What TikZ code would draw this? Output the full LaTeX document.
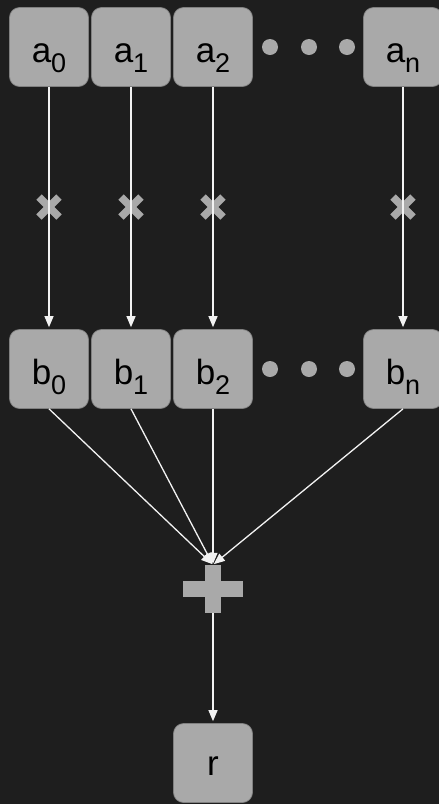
\documentclass[tikz,border=0pt]{standalone}
\usepackage{fontspec}
\setmainfont{Liberation Sans}
\usetikzlibrary{arrows.meta}
\definecolor{bg}{HTML}{1E1E1E}
\definecolor{boxgray}{HTML}{A9A9A9}
\definecolor{boxedge}{HTML}{808080}
\definecolor{wire}{HTML}{F2F2F2}
% a letter with its index set low beside it
\newcommand{\sym}[2]{#1\smash{\raisebox{-10pt}{\fontsize{27}{27}\selectfont #2}}}
\begin{document}
\begin{tikzpicture}[x=1pt,y=-1pt,
  cell/.style={rounded corners=10pt, fill=boxgray, draw=boxedge, line width=0.7pt,
    minimum width=79pt, minimum height=79pt, inner sep=0pt,
    text height=30pt, text depth=0pt,
    font=\fontsize{35}{35}\selectfont, text=black},
  wirearrow/.style={draw=wire, line width=1.3pt, -{Triangle[width=9pt,length=11pt]}, shorten >=2pt},
  dot/.style={fill=boxgray},
  xmark/.style={line width=7.5pt, draw=boxgray}
]
\useasboundingbox (0,0) rectangle (439,804);
\fill[bg] (0,0) rectangle (439,804);

% top row
\node[cell] (a0) at (49,47) {\sym{a}{0}};
\node[cell] (a1) at (131,47) {\sym{a}{1}};
\node[cell] (a2) at (213,47) {\sym{a}{2}};
\node[cell] (an) at (403,47) {\sym{a}{n}};
% second row
\node[cell] (b0) at (49,369) {\sym{b}{0}};
\node[cell] (b1) at (131,369) {\sym{b}{1}};
\node[cell] (b2) at (213,369) {\sym{b}{2}};
\node[cell] (bn) at (403,369) {\sym{b}{n}};
% result
\node[cell, text height=24pt] (r) at (213,763) {r};

% ellipsis dots
\foreach \y in {47,369} {
  \foreach \x in {270,309,347} \fill[dot] (\x,\y) circle (8pt);
}

% multiplication signs
\foreach \x in {49,131,213,403} {
  \draw[xmark] (\x-10,207-10) -- (\x+10,207+10);
  \draw[xmark] (\x-10,207+10) -- (\x+10,207-10);
}

% summation sign
\node[minimum width=16pt, minimum height=48pt, inner sep=0pt] (plus) at (213,589) {};
\fill[boxgray] (183,581) rectangle (243,597);
\fill[boxgray] (205,565) rectangle (221,613);

% connectors
\foreach \i in {0,1,2,n} \draw[wirearrow] (a\i.south) -- (b\i.north);
\foreach \i in {0,1,2,n} \draw[wirearrow, shorten >=1pt] (b\i.south) -- (plus.north);
\draw[wirearrow] (plus.south) -- (r.north);
\end{tikzpicture}
\end{document}
